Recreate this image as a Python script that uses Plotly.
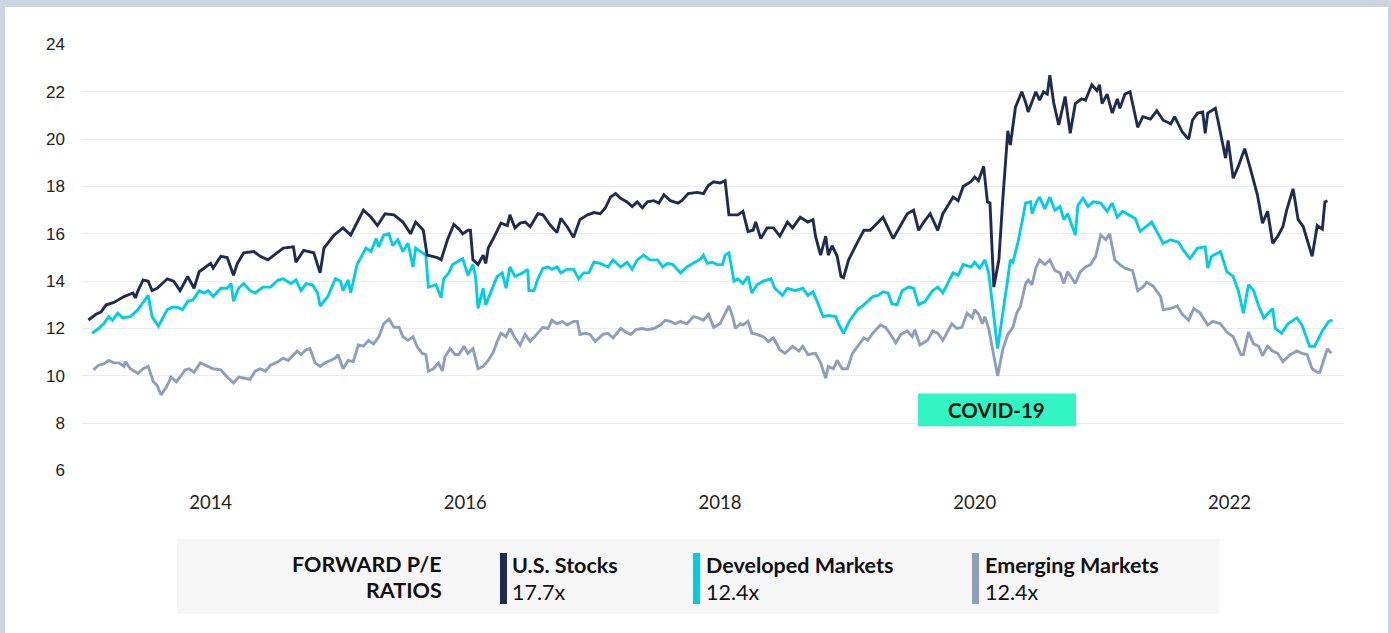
import plotly.graph_objects as go

# ---------------- data (decimal years, forward P/E) ----------------
us_t = [2013.04, 2013.10, 2013.14, 2013.18, 2013.24, 2013.32, 2013.39, 2013.41, 2013.43, 2013.47,
        2013.51, 2013.54, 2013.58, 2013.66, 2013.71, 2013.76, 2013.82, 2013.87, 2013.91, 2013.95,
        2014.00, 2014.02, 2014.08, 2014.13, 2014.18, 2014.21, 2014.26, 2014.34, 2014.39, 2014.45,
        2014.57, 2014.65, 2014.67, 2014.73, 2014.81, 2014.86, 2014.89, 2014.97, 2015.04, 2015.10,
        2015.20, 2015.26, 2015.31, 2015.37, 2015.44, 2015.51, 2015.57, 2015.61, 2015.67, 2015.70,
        2015.78, 2015.81, 2015.86, 2015.91, 2015.95, 2015.98, 2016.02, 2016.04, 2016.06, 2016.10,
        2016.14, 2016.16, 2016.18, 2016.22, 2016.28, 2016.33, 2016.35, 2016.39, 2016.43, 2016.47,
        2016.51, 2016.57, 2016.61, 2016.67, 2016.72, 2016.75, 2016.80, 2016.85, 2016.90, 2016.96,
        2017.01, 2017.06, 2017.10, 2017.14, 2017.18, 2017.22, 2017.27, 2017.31, 2017.35, 2017.39,
        2017.43, 2017.48, 2017.52, 2017.56, 2017.61, 2017.67, 2017.70, 2017.75, 2017.82, 2017.87,
        2017.91, 2017.95, 2018.00, 2018.04, 2018.07, 2018.10, 2018.14, 2018.18, 2018.22, 2018.26,
        2018.28, 2018.32, 2018.37, 2018.42, 2018.47, 2018.53, 2018.57, 2018.63, 2018.69, 2018.73,
        2018.75, 2018.79, 2018.83, 2018.85, 2018.88, 2018.92, 2018.95, 2018.97, 2019.01, 2019.08,
        2019.13, 2019.18, 2019.24, 2019.28, 2019.36, 2019.43, 2019.47, 2019.52, 2019.56, 2019.60,
        2019.65, 2019.71, 2019.75, 2019.79, 2019.83, 2019.87, 2019.91, 2019.97, 2020.00, 2020.03,
        2020.07, 2020.10, 2020.12, 2020.15, 2020.19, 2020.22, 2020.26, 2020.28, 2020.32, 2020.37,
        2020.40, 2020.42, 2020.48, 2020.51, 2020.54, 2020.57, 2020.59, 2020.62, 2020.66, 2020.71,
        2020.75, 2020.79, 2020.84, 2020.87, 2020.92, 2020.96, 2020.98, 2021.00, 2021.04, 2021.08,
        2021.12, 2021.14, 2021.18, 2021.22, 2021.28, 2021.32, 2021.38, 2021.43, 2021.48, 2021.54,
        2021.57, 2021.63, 2021.68, 2021.71, 2021.75, 2021.79, 2021.81, 2021.83, 2021.89, 2021.91,
        2021.97, 2021.99, 2022.03, 2022.07, 2022.12, 2022.16, 2022.20, 2022.22, 2022.26, 2022.30,
        2022.34, 2022.38, 2022.42, 2022.45, 2022.50, 2022.54, 2022.58, 2022.61, 2022.65, 2022.69,
        2022.73, 2022.75, 2022.77]
us_v = [12.36, 12.6, 12.7, 13.0, 13.1, 13.35, 13.5, 13.3, 13.6, 14.05,
        14.0, 13.6, 13.7, 14.1, 14.0, 13.6, 14.2, 13.7, 14.4, 14.55,
        14.75, 14.55, 15.05, 15.0, 14.25, 14.75, 15.2, 15.25, 15.05, 14.9,
        15.4, 15.45, 14.8, 15.3, 15.2, 14.35, 15.4, 15.95, 16.25, 15.95,
        17.0, 16.7, 16.35, 16.85, 16.8, 16.5, 16.0, 16.5, 16.15, 15.1,
        15.0, 14.9, 15.75, 16.4, 16.2, 16.0, 16.15, 16.15, 14.9, 14.7,
        15.1, 14.75, 15.4, 15.8, 16.45, 16.35, 16.8, 16.25, 16.45, 16.5,
        16.3, 16.85, 16.8, 16.35, 16.05, 16.65, 16.3, 15.85, 16.6, 16.8,
        16.9, 16.85, 17.1, 17.55, 17.7, 17.5, 17.35, 17.15, 17.35, 17.1,
        17.35, 17.4, 17.3, 17.65, 17.4, 17.3, 17.4, 17.7, 17.75, 17.7,
        18.05, 18.2, 18.15, 18.25, 16.8, 16.8, 16.8, 16.95, 16.1, 16.15,
        16.5, 15.8, 16.25, 16.25, 15.9, 16.5, 16.25, 16.7, 16.5, 16.6,
        15.9, 15.1, 15.9, 15.1, 15.5, 15.05, 14.2, 14.15, 14.9, 15.65,
        16.15, 16.15, 16.5, 16.7, 15.8, 16.5, 16.85, 17.0, 16.15, 16.5,
        16.85, 16.15, 16.85, 17.2, 17.55, 17.4, 18.0, 18.2, 18.4, 18.25,
        18.85, 17.35, 17.3, 13.75, 14.9, 17.4, 20.35, 19.75, 21.35, 22.0,
        21.55, 21.15, 22.0, 21.65, 22.0, 21.9, 22.7, 21.55, 20.6, 21.8,
        20.25, 21.5, 21.7, 21.65, 22.3, 22.05, 22.3, 21.5, 21.9, 21.1,
        21.7, 21.3, 21.9, 22.0, 20.5, 20.95, 20.85, 21.2, 20.8, 20.65,
        20.95, 20.3, 20.0, 20.8, 21.1, 21.15, 20.25, 21.1, 21.3, 20.8,
        19.2, 19.95, 18.35, 18.85, 19.6, 18.85, 18.0, 17.65, 16.45, 16.95,
        15.6, 15.9, 16.3, 17.0, 17.9, 16.6, 16.3, 15.75, 15.05, 16.35,
        16.2, 17.35, 17.4]

dm_t = [2013.07, 2013.12, 2013.16, 2013.20, 2013.23, 2013.27, 2013.31, 2013.37, 2013.43, 2013.51,
        2013.54, 2013.59, 2013.66, 2013.70, 2013.74, 2013.78, 2013.82, 2013.86, 2013.91, 2013.95,
        2013.98, 2014.02, 2014.08, 2014.13, 2014.16, 2014.18, 2014.22, 2014.26, 2014.31, 2014.35,
        2014.41, 2014.47, 2014.53, 2014.57, 2014.63, 2014.67, 2014.71, 2014.75, 2014.80, 2014.84,
        2014.86, 2014.92, 2014.98, 2015.02, 2015.04, 2015.08, 2015.10, 2015.15, 2015.22, 2015.26,
        2015.30, 2015.32, 2015.36, 2015.40, 2015.43, 2015.47, 2015.51, 2015.55, 2015.59, 2015.61,
        2015.65, 2015.69, 2015.71, 2015.77, 2015.81, 2015.83, 2015.87, 2015.90, 2015.98, 2016.02,
        2016.06, 2016.08, 2016.10, 2016.14, 2016.16, 2016.20, 2016.25, 2016.29, 2016.32, 2016.35,
        2016.39, 2016.45, 2016.49, 2016.50, 2016.54, 2016.57, 2016.61, 2016.65, 2016.68, 2016.72,
        2016.75, 2016.80, 2016.85, 2016.89, 2016.93, 2016.97, 2017.01, 2017.06, 2017.12, 2017.16,
        2017.22, 2017.27, 2017.31, 2017.35, 2017.40, 2017.45, 2017.51, 2017.55, 2017.59, 2017.63,
        2017.69, 2017.74, 2017.79, 2017.85, 2017.87, 2017.90, 2017.94, 2017.98, 2018.02, 2018.04,
        2018.07, 2018.11, 2018.14, 2018.18, 2018.22, 2018.25, 2018.29, 2018.34, 2018.40, 2018.43,
        2018.49, 2018.53, 2018.59, 2018.65, 2018.69, 2018.73, 2018.77, 2018.81, 2018.85, 2018.91,
        2018.93, 2018.97, 2019.02, 2019.08, 2019.13, 2019.16, 2019.20, 2019.24, 2019.28, 2019.32,
        2019.35, 2019.39, 2019.43, 2019.48, 2019.52, 2019.56, 2019.61, 2019.67, 2019.71, 2019.75,
        2019.79, 2019.83, 2019.87, 2019.91, 2019.97, 2020.00, 2020.04, 2020.08, 2020.11, 2020.18,
        2020.26, 2020.28, 2020.30, 2020.34, 2020.37, 2020.40, 2020.44, 2020.45, 2020.49, 2020.51,
        2020.55, 2020.59, 2020.63, 2020.67, 2020.70, 2020.73, 2020.79, 2020.81, 2020.85, 2020.89,
        2020.93, 2020.99, 2021.04, 2021.08, 2021.12, 2021.16, 2021.21, 2021.26, 2021.30, 2021.39,
        2021.44, 2021.48, 2021.54, 2021.60, 2021.64, 2021.69, 2021.75, 2021.81, 2021.83, 2021.86,
        2021.93, 2021.98, 2022.03, 2022.07, 2022.11, 2022.15, 2022.19, 2022.23, 2022.27, 2022.34,
        2022.36, 2022.41, 2022.46, 2022.53, 2022.57, 2022.63, 2022.67, 2022.73, 2022.78, 2022.81]
dm_v = [11.8, 12.0, 12.2, 12.5, 12.35, 12.65, 12.45, 12.5, 12.8, 13.4,
        12.5, 12.1, 12.8, 12.9, 12.9, 12.8, 13.15, 13.2, 13.6, 13.5,
        13.6, 13.35, 13.7, 13.7, 13.9, 13.15, 13.7, 13.9, 13.6, 13.5,
        13.75, 13.75, 14.05, 14.1, 13.9, 14.05, 13.6, 13.9, 13.85, 13.5,
        12.95, 13.35, 14.1, 14.0, 13.6, 14.05, 13.5, 14.7, 15.4, 15.25,
        15.8, 15.45, 15.95, 16.0, 15.5, 15.75, 15.25, 15.6, 14.6, 15.4,
        15.25, 15.1, 13.75, 13.85, 13.3, 14.1, 14.35, 14.7, 14.95, 14.25,
        14.7, 14.2, 12.85, 13.7, 13.0, 13.55, 14.2, 14.35, 13.7, 14.6,
        14.2, 14.35, 14.5, 13.6, 13.6, 14.1, 14.55, 14.6, 14.5, 14.6,
        14.35, 14.5, 14.5, 14.1, 14.35, 14.35, 14.8, 14.75, 14.6, 14.9,
        14.6, 14.8, 14.5, 14.9, 15.1, 14.9, 14.9, 14.6, 14.75, 14.7,
        14.35, 14.6, 14.75, 14.95, 15.1, 14.75, 14.8, 14.7, 14.7, 15.1,
        15.2, 14.0, 14.1, 13.9, 14.2, 13.5, 13.85, 14.0, 14.1, 13.7,
        13.4, 13.7, 13.6, 13.7, 13.4, 13.55, 13.05, 12.5, 12.55, 12.5,
        12.2, 11.8, 12.35, 12.8, 13.0, 13.15, 13.35, 13.4, 13.55, 13.5,
        13.05, 13.0, 13.6, 13.75, 13.7, 13.0, 13.15, 13.6, 13.75, 13.5,
        13.9, 14.35, 14.25, 14.7, 14.6, 14.8, 14.55, 14.9, 14.35, 11.15,
        14.1, 14.9, 14.8, 15.65, 16.45, 17.3, 17.35, 16.85, 17.4, 17.55,
        17.05, 17.55, 17.0, 17.15, 16.6, 16.85, 15.95, 17.2, 17.5, 17.15,
        17.35, 17.3, 16.95, 17.3, 16.7, 16.95, 16.8, 16.65, 16.1, 16.5,
        16.0, 15.6, 15.75, 15.65, 15.3, 14.95, 15.4, 15.45, 14.55, 15.05,
        15.25, 14.4, 14.2, 13.6, 12.65, 13.85, 13.6, 12.95, 12.45, 12.85,
        12.0, 11.8, 12.2, 12.45, 12.15, 11.25, 11.25, 11.9, 12.3, 12.35]

em_t = [2013.08, 2013.12, 2013.16, 2013.20, 2013.24, 2013.28, 2013.32, 2013.33, 2013.37, 2013.43,
        2013.47, 2013.51, 2013.55, 2013.58, 2013.61, 2013.65, 2013.69, 2013.73, 2013.76, 2013.80,
        2013.83, 2013.87, 2013.92, 2013.98, 2014.02, 2014.08, 2014.13, 2014.18, 2014.22, 2014.27,
        2014.31, 2014.35, 2014.39, 2014.43, 2014.47, 2014.53, 2014.57, 2014.61, 2014.65, 2014.68,
        2014.71, 2014.75, 2014.78, 2014.82, 2014.86, 2014.90, 2014.94, 2014.98, 2015.00, 2015.04,
        2015.08, 2015.12, 2015.16, 2015.20, 2015.24, 2015.28, 2015.32, 2015.36, 2015.40, 2015.44,
        2015.48, 2015.51, 2015.55, 2015.59, 2015.62, 2015.66, 2015.69, 2015.71, 2015.75, 2015.79,
        2015.82, 2015.84, 2015.88, 2015.92, 2015.95, 2015.99, 2016.02, 2016.06, 2016.08, 2016.10,
        2016.14, 2016.18, 2016.22, 2016.25, 2016.28, 2016.32, 2016.35, 2016.39, 2016.43, 2016.47,
        2016.51, 2016.57, 2016.61, 2016.65, 2016.68, 2016.72, 2016.76, 2016.80, 2016.85, 2016.88,
        2016.90, 2016.94, 2016.98, 2017.02, 2017.08, 2017.12, 2017.16, 2017.22, 2017.26, 2017.30,
        2017.34, 2017.39, 2017.43, 2017.48, 2017.53, 2017.57, 2017.61, 2017.65, 2017.69, 2017.74,
        2017.79, 2017.83, 2017.87, 2017.91, 2017.95, 2018.00, 2018.04, 2018.07, 2018.10, 2018.12,
        2018.16, 2018.18, 2018.22, 2018.25, 2018.29, 2018.34, 2018.38, 2018.42, 2018.47, 2018.51,
        2018.57, 2018.62, 2018.65, 2018.69, 2018.75, 2018.79, 2018.83, 2018.85, 2018.89, 2018.92,
        2018.96, 2019.00, 2019.04, 2019.08, 2019.13, 2019.16, 2019.20, 2019.26, 2019.30, 2019.34,
        2019.38, 2019.42, 2019.47, 2019.51, 2019.53, 2019.57, 2019.63, 2019.67, 2019.71, 2019.75,
        2019.79, 2019.82, 2019.86, 2019.90, 2019.94, 2019.98, 2020.00, 2020.03, 2020.06, 2020.08,
        2020.11, 2020.15, 2020.18, 2020.22, 2020.26, 2020.30, 2020.33, 2020.36, 2020.40, 2020.42,
        2020.45, 2020.48, 2020.51, 2020.55, 2020.59, 2020.63, 2020.67, 2020.70, 2020.73, 2020.79,
        2020.83, 2020.87, 2020.91, 2020.95, 2020.99, 2021.03, 2021.06, 2021.10, 2021.14, 2021.18,
        2021.24, 2021.28, 2021.32, 2021.35, 2021.40, 2021.46, 2021.48, 2021.54, 2021.59, 2021.63,
        2021.68, 2021.72, 2021.77, 2021.83, 2021.87, 2021.93, 2021.98, 2022.03, 2022.09, 2022.11,
        2022.15, 2022.19, 2022.23, 2022.26, 2022.30, 2022.34, 2022.38, 2022.42, 2022.48, 2022.53,
        2022.57, 2022.61, 2022.65, 2022.69, 2022.71, 2022.74, 2022.77, 2022.80]
em_v = [10.25, 10.45, 10.5, 10.65, 10.55, 10.55, 10.4, 10.6, 10.3, 10.1,
        10.3, 10.4, 9.75, 9.6, 9.2, 9.5, 9.95, 9.75, 9.95, 10.25,
        10.3, 10.15, 10.55, 10.4, 10.3, 10.25, 9.95, 9.7, 9.95, 9.9,
        9.85, 10.2, 10.3, 10.2, 10.45, 10.6, 10.75, 10.65, 10.9, 11.05,
        10.9, 11.1, 11.15, 10.55, 10.4, 10.55, 10.65, 10.75, 10.9, 10.3,
        10.65, 10.6, 11.3, 11.25, 11.5, 11.35, 11.65, 12.2, 12.4, 12.05,
        12.05, 11.65, 11.5, 11.65, 11.25, 10.95, 10.9, 10.2, 10.3, 10.55,
        10.2, 10.8, 11.15, 10.9, 10.9, 11.25, 10.95, 11.15, 10.75, 10.3,
        10.4, 10.65, 11.0, 11.45, 11.8, 11.65, 12.0, 11.6, 11.3, 11.75,
        11.45, 11.8, 12.05, 12.0, 12.35, 12.2, 12.3, 12.15, 12.3, 12.3,
        11.75, 11.8, 11.75, 11.45, 11.75, 11.8, 11.6, 12.0, 11.85, 11.75,
        11.95, 12.0, 11.95, 12.0, 12.15, 12.35, 12.3, 12.2, 12.3, 12.2,
        12.5, 12.45, 12.35, 12.6, 12.05, 12.2, 12.65, 12.95, 12.5, 12.0,
        12.2, 12.15, 12.3, 11.8, 11.75, 11.65, 11.45, 11.6, 11.1, 10.95,
        11.25, 11.05, 11.25, 10.9, 10.95, 10.55, 9.9, 10.4, 10.3, 10.65,
        10.3, 10.3, 10.95, 11.25, 11.6, 11.5, 11.8, 12.15, 12.05, 11.75,
        11.4, 11.75, 11.9, 11.65, 11.95, 11.3, 11.5, 11.9, 11.8, 11.5,
        11.9, 12.2, 12.0, 12.05, 12.65, 12.45, 12.8, 12.6, 12.2, 12.5,
        12.0, 10.9, 10.0, 11.1, 11.75, 12.05, 12.65, 12.95, 13.9, 14.05,
        13.85, 14.55, 14.9, 14.7, 14.9, 14.45, 14.35, 13.9, 14.4, 13.9,
        14.4, 14.6, 14.7, 15.05, 15.95, 15.75, 16.0, 14.9, 14.7, 14.55,
        14.45, 13.6, 13.75, 13.95, 13.8, 13.35, 12.8, 12.85, 12.95, 12.6,
        12.35, 12.85, 12.65, 12.15, 12.3, 12.2, 11.85, 11.65, 10.9, 10.9,
        11.85, 11.35, 11.25, 10.85, 11.25, 11.05, 10.95, 10.6, 10.9, 11.05,
        10.95, 10.9, 10.3, 10.15, 10.15, 10.65, 11.15, 10.95]

year_ticks = [2014, 2016, 2018, 2020, 2022]
year_labels = ["2014", "2016", "2018", "2020", "2022"]
pe_ticks = [6, 8, 10, 12, 14, 16, 18, 20, 22, 24]

series_names = ["U.S. Stocks", "Developed Markets", "Emerging Markets"]
series_latest = ["17.7x", "12.4x", "12.4x"]

covid_label = "COVID-19"
covid_span = [2019.555, 2020.795]
covid_band = [7.87, 9.25]

# ---------------- style ----------------
NAVY = "#1f2c4f"
CYAN = "#00cde8"
GREY = "#8d9fbb"
FRAME = "#ccd4e0"
FONT = "Lato"
LEG_SIZE = 21.5

fig = go.Figure()
fig.add_trace(go.Scatter(x=em_t, y=em_v, mode="lines", name=series_names[2],
                         line=dict(color=GREY, width=2.9)))
fig.add_trace(go.Scatter(x=dm_t, y=dm_v, mode="lines", name=series_names[1],
                         line=dict(color=CYAN, width=2.9)))
fig.add_trace(go.Scatter(x=us_t, y=us_v, mode="lines", name=series_names[0],
                         line=dict(color=NAVY, width=2.9)))

# plot area: x 82..1344 px, y 44..471 px
PL, PR, PT, PB = 82, 1344, 44, 471
W, H = 1391, 633
def px(xp):
    return (xp - PL) / (PR - PL)
def py(yp):
    return (PB - yp) / (PB - PT)

shapes = []
# white panel inside the frame
shapes.append(dict(type="rect", xref="paper", yref="paper", layer="below",
                   x0=px(5), x1=px(1388), y0=py(640), y1=py(7),
                   fillcolor="white", line=dict(width=0)))
# legend box
shapes.append(dict(type="rect", xref="paper", yref="paper", layer="below",
                   x0=px(177), x1=px(1219), y0=py(614), y1=py(539),
                   fillcolor="#f6f6f6", line=dict(width=0)))
# colour bars
bar_x = [500, 693, 972]
cols = [NAVY, CYAN, GREY]
for bx, c in zip(bar_x, cols):
    shapes.append(dict(type="rect", xref="paper", yref="paper", layer="above",
                       x0=px(bx), x1=px(bx + 7), y0=py(604), y1=py(553),
                       fillcolor=c, line=dict(width=0)))
# covid label box
shapes.append(dict(type="rect", xref="x", yref="y", layer="above",
                   x0=covid_span[0], x1=covid_span[1], y0=covid_band[0], y1=covid_band[1],
                   fillcolor="#30f5c2", line=dict(width=0)))

annotations = []
annotations.append(dict(xref="x", yref="y", x=sum(covid_span) / 2, y=sum(covid_band) / 2,
                        text="<b>" + covid_label + "</b>", showarrow=False,
                        font=dict(family=FONT, size=20.5, color="#111111"),
                        xanchor="center", yanchor="middle"))
annotations.append(dict(xref="paper", yref="paper", x=px(444), y=py(564),
                        text="<b>FORWARD P/E</b>", showarrow=False,
                        font=dict(family=FONT, size=LEG_SIZE, color="#111111"),
                        xanchor="right", yanchor="middle"))
annotations.append(dict(xref="paper", yref="paper", x=px(444), y=py(590),
                        text="<b>RATIOS</b>", showarrow=False,
                        font=dict(family=FONT, size=LEG_SIZE, color="#111111"),
                        xanchor="right", yanchor="middle"))
text_x = [510, 704, 983]
for tx, nm, lv in zip(text_x, series_names, series_latest):
    annotations.append(dict(xref="paper", yref="paper", x=px(tx), y=py(565),
                            text="<b>" + nm + "</b>", showarrow=False,
                            font=dict(family=FONT, size=LEG_SIZE, color="#111111"),
                            xanchor="left", yanchor="middle"))
    annotations.append(dict(xref="paper", yref="paper", x=px(tx), y=py(592),
                            text=lv, showarrow=False,
                            font=dict(family=FONT, size=LEG_SIZE, color="#111111"),
                            xanchor="left", yanchor="middle"))

fig.update_layout(
    width=W, height=H,
    margin=dict(l=PL, r=W - PR, t=PT, b=H - PB, pad=0),
    paper_bgcolor=FRAME,
    plot_bgcolor="rgba(0,0,0,0)",
    showlegend=False,
    shapes=shapes,
    annotations=annotations,
    xaxis=dict(range=[2012.99, 2022.90], tickmode="array", tickvals=year_ticks,
               ticktext=year_labels, showgrid=False, zeroline=False, showline=False,
               ticks="", ticklabelstandoff=18,
               tickfont=dict(family=FONT, size=18.5, color="#222222")),
    yaxis=dict(range=[5.98, 24.02], tickmode="array", tickvals=pe_ticks,
               showgrid=True, gridcolor="#ececec", gridwidth=1.2,
               zeroline=False, showline=False, ticks="", ticklabelstandoff=16,
               tickfont=dict(family="Liberation Sans", size=17, color="#222222")),
)

fig.write_html("out.html")
